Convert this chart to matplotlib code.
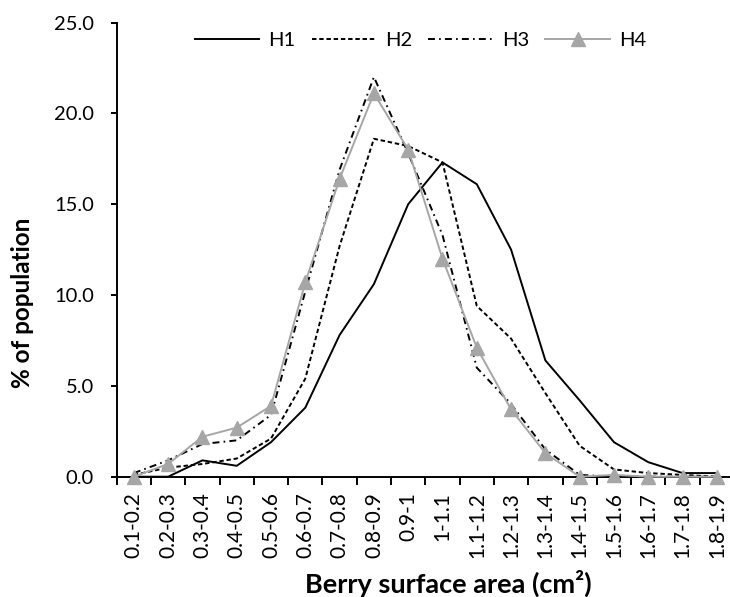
import matplotlib
matplotlib.use("Agg")
import matplotlib.pyplot as plt
import numpy as np

# =============================
# DATA
# =============================

categories = ["0.1-0.2", "0.2-0.3", "0.3-0.4", "0.4-0.5", "0.5-0.6", "0.6-0.7",
              "0.7-0.8", "0.8-0.9", "0.9-1", "1-1.1", "1.1-1.2", "1.2-1.3",
              "1.3-1.4", "1.4-1.5", "1.5-1.6", "1.6-1.7", "1.7-1.8", "1.8-1.9"]

h1 = [0.0, 0.0, 0.9, 0.6, 1.9, 3.8, 7.8, 10.6, 15.0, 17.3, 16.1, 12.5, 6.4, 4.2, 1.9, 0.8, 0.2, 0.2]
h2 = [0.1, 0.5, 0.7, 1.0, 2.1, 5.4, 12.7, 18.6, 18.2, 17.3, 9.4, 7.6, 4.6, 1.7, 0.4, 0.2, 0.1, 0.0]
h3 = [0.2, 0.9, 1.8, 2.0, 3.4, 10.2, 16.9, 22.0, 17.8, 13.3, 6.0, 4.0, 1.5, 0.1, 0.0, 0.0, 0.0, 0.0]
h4 = [0.0, 0.7, 2.2, 2.7, 3.9, 10.7, 16.4, 21.1, 18.0, 12.0, 7.1, 3.7, 1.3, 0.0, 0.1, 0.0, 0.0, 0.0]

yticks = [0, 5, 10, 15, 20, 25]

# =============================
# STYLE
# =============================

plt.rcParams['font.family'] = ['Lato', 'DejaVu Sans']
plt.rcParams['lines.scale_dashes'] = False

W, H = 730, 597
fig = plt.figure(figsize=(W / 100, H / 100), dpi=100)

left, right, bottom, top = 116.7, 734.0, 476.7, 22.5
ax = fig.add_axes([left / W, 1 - bottom / H, (right - left) / W, (bottom - top) / H])

x = np.arange(len(categories))
lw = 1.4

ax.plot(x, h1, color="black", lw=lw, label="H1", clip_on=False)
ax.plot(x, h2, color="black", lw=lw, ls=(0, (3.2, 2.0)), label="H2", clip_on=False)
ax.plot(x, h3, color="black", lw=lw, ls=(0, (5.0, 3.0, 1.2, 3.0)), label="H3", clip_on=False)
ax.plot(x, h4, color="#a6a6a6", lw=lw, marker="^", ms=10, label="H4", clip_on=False, zorder=3)

ax.set_xlim(-0.5, len(categories) - 0.5)
ax.set_ylim(0, 25)

ax.set_yticks(yticks)
ax.set_yticklabels([f"{v:.1f}" for v in yticks], fontsize=14.5)
ax.tick_params(axis="y", direction="out", length=4.5, width=lw, pad=12)

ax.set_xticks(x)
ax.set_xticklabels(categories, rotation=90, fontsize=15)
ax.tick_params(axis="x", which="major", length=0, pad=11)
ax.set_xticks(np.arange(-0.5, len(categories), 1), minor=True)
ax.tick_params(axis="x", which="minor", direction="out", length=6, width=lw)

for s in ["top", "right"]:
    ax.spines[s].set_visible(False)
for s in ["left", "bottom"]:
    ax.spines[s].set_linewidth(lw)

ax.legend(loc="center", bbox_to_anchor=(420.5 / W, 1 - 40.7 / H),
          bbox_transform=fig.transFigure, ncol=4, frameon=False,
          handlelength=3.2, handletextpad=0.45, columnspacing=0.8,
          fontsize=14.5, numpoints=1)

fig.text(23 / W, 1 - 303 / H, "% of population", rotation=90, fontsize=17.5,
         fontweight="bold", ha="center", va="center")
fig.text(448 / W, 1 - 583 / H, "Berry surface area (cm²)", fontsize=19.5,
         fontweight="bold", ha="center", va="center")

fig.savefig("out.png", dpi=100)
